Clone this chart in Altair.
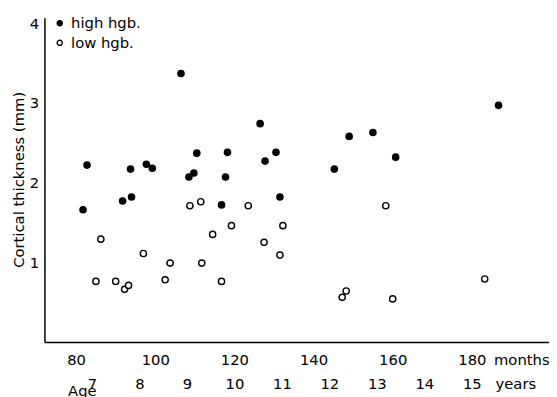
import altair as alt
import pandas as pd

high_months = [81.75, 82.75, 91.75, 94, 93.75, 97.75, 99.25, 106.5, 108.5, 109.75, 110.5,
               116.75, 117.75, 118.25, 126.5, 127.75, 130.5, 131.5, 145.25, 149, 155, 160.75, 186.75]
high_thick = [1.66, 2.22, 1.77, 1.82, 2.17, 2.23, 2.18, 3.37, 2.07, 2.12, 2.37,
              1.72, 2.07, 2.38, 2.74, 2.27, 2.38, 1.82, 2.17, 2.58, 2.63, 2.32, 2.97]
low_months = [86.25, 85, 90, 92.25, 93.25, 97, 102.5, 103.75, 108.75, 111.5, 111.75, 114.5,
              116.75, 119.25, 123.5, 127.5, 132.25, 131.5, 147.25, 148.25, 158.25, 160, 183.25]
low_thick = [1.29, 0.76, 0.76, 0.66, 0.71, 1.11, 0.78, 0.99, 1.71, 1.76, 0.99, 1.35,
             0.76, 1.46, 1.71, 1.25, 1.46, 1.09, 0.56, 0.64, 1.71, 0.54, 0.79]
groups = ["high hgb.", "low hgb."]
month_ticks = [80, 100, 120, 140, 160, 180]
year_ticks = [7, 8, 9, 10, 11, 12, 13, 14, 15]
y_ticks = [1, 2, 3, 4]

df = pd.DataFrame({
    "month": high_months + low_months,
    "thick": high_thick + low_thick,
    "group": [groups[0]] * len(high_months) + [groups[1]] * len(low_months),
})

FONT = "DejaVu Sans"
xscale = alt.Scale(domain=[72, 199.5], nice=False, zero=False)

pts = alt.Chart(df).mark_point(shape="circle", filled=True, size=40, strokeWidth=1.4,
                               opacity=1, stroke="black").encode(
    x=alt.X("month:Q", scale=xscale,
            axis=alt.Axis(orient="bottom", values=month_ticks + [192.5], title=None,
                          ticks=False, grid=False,
                          labelPadding=11, labelOverlap=False, labelFlush=False,
                          labelExpr="datum.value > 185 ? 'months' : datum.label",
                          domainColor="black", domainWidth=1.5)),
    y=alt.Y("thick:Q", scale=alt.Scale(domain=[0, 4.07], nice=False),
            axis=alt.Axis(values=y_ticks, title="Cortical  thickness (mm)", ticks=False,
                          grid=False, labelPadding=6, format="d",
                          titleX=-26, titleY=164, titleAlign="center",
                          titleBaseline="middle", titleAngle=270,
                          domainColor="black", domainWidth=1.5)),
    fill=alt.Fill("group:N", scale=alt.Scale(domain=groups, range=["black", "white"]),
                  legend=alt.Legend(title=None, orient="none", legendX=8, legendY=-2,
                                    symbolType="circle", symbolSize=28,
                                    symbolStrokeColor="black", symbolStrokeWidth=1.3,
                                    labelOffset=4, rowPadding=4, padding=0)),
)

years_df = pd.DataFrame({"month": [y * 12 for y in year_ticks]})
yrs = alt.Chart(years_df).mark_point(opacity=0).encode(
    x=alt.X("month:Q", scale=xscale,
            axis=alt.Axis(orient="bottom", values=[y * 12 for y in year_ticks] + [191],
                          title="Age",
                          ticks=False, grid=False, domain=False, labelPadding=35,
                          labelOverlap=False, labelFlush=False,
                          labelExpr="datum.value > 185 ? 'years' : format(datum.value / 12, 'd')",
                          titleX=38, titleY=54, titleBaseline="alphabetic",
                          titleAnchor="start", titleAlign="center")),
)

chart = alt.layer(pts, yrs).resolve_axis(x="independent").properties(
    width=512, height=329,
    autosize=alt.AutoSizeParams(type="none"),
    padding={"left": 37, "top": 7, "right": 0, "bottom": 53},
).configure_view(stroke=None).configure_axis(
    labelFont=FONT, titleFont=FONT, labelFontSize=15, titleFontSize=15,
    labelColor="black", titleColor="black", titleFontWeight="normal",
).configure_legend(labelFont=FONT, labelFontSize=15, labelColor="black")

chart.save("out.html", embed_options={"renderer": "svg", "actions": False})
